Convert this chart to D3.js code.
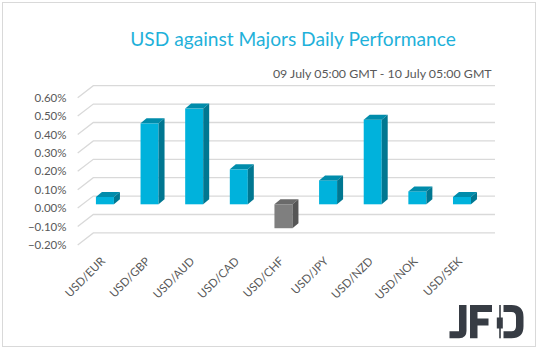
<!DOCTYPE html>
<html>
<head>
<meta charset="utf-8">
<script src="https://cdn.jsdelivr.net/npm/d3@7"></script>
<style>
  body { margin: 0; background: #fff; }
  text { font-family: Lato, "Open Sans", sans-serif; }
</style>
</head>
<body>
<div id="chart"></div>
<script>
const categories = ["USD/EUR", "USD/GBP", "USD/AUD", "USD/CAD", "USD/CHF", "USD/JPY", "USD/NZD", "USD/NOK", "USD/SEK"];
const changes = [0.04, 0.44, 0.52, 0.19, -0.13, 0.13, 0.46, 0.07, 0.04];
const yTicks = [-0.2, -0.1, 0, 0.1, 0.2, 0.3, 0.4, 0.5, 0.6];
const title = "USD against Majors Daily Performance";
const subtitle = "09 July 05:00 GMT - 10 July 05:00 GMT";

const width = 538, height = 351;

// back wall of the 3d plot
const wall = { left: 93.3, right: 495, top: 85.7, bottom: 232.9 };
const depth = { dx: -15.6, dy: 12 };     // back wall -> front edge
const barPos = { dx: -10.7, dy: 8.2 };   // back wall -> bar front face
const barDepth = { dx: 6, dy: -5 };
const barW = 18;

const svg = d3.select("#chart")
  .append("svg")
  .attr("width", width)
  .attr("height", height);

svg.append("rect")
  .attr("x", 2.5).attr("y", 2.5)
  .attr("width", 533).attr("height", 344)
  .attr("fill", "#fff")
  .attr("stroke", "#d9d9d9");

const x = d3.scaleBand()
  .domain(categories)
  .range([wall.left, wall.right]);

const y = d3.scaleLinear()
  .domain([d3.min(yTicks), d3.max(yTicks)])
  .range([wall.bottom, wall.top]);

// gridlines + the diagonal side edges
const grid = svg.append("g").attr("stroke", "#d9d9d9").attr("stroke-width", 1.3).attr("fill", "none");
yTicks.forEach(t => {
  grid.append("path")
    .attr("d", "M" + (wall.left + depth.dx) + "," + (y(t) + depth.dy) +
      "L" + wall.left + "," + y(t) + "L" + wall.right + "," + y(t));
});

svg.append("g")
  .selectAll("text")
  .data(yTicks)
  .enter()
    .append("text")
      .attr("x", 66.5)
      .attr("y", d => y(d) + depth.dy)
      .attr("dy", "0.35em")
      .attr("text-anchor", "end")
      .attr("font-size", 11.5)
      .attr("fill", "#595959")
      .text(d => d3.format(".2f")(d) + "%");

const colors = {
  up: { front: "#00b2dc", top: "#008cab", side: "#007791" },
  down: { front: "#7f7f7f", top: "#6a6a6a", side: "#565656" }
};

const bars = svg.append("g")
  .selectAll("g")
  .data(categories.map((c, i) => ({ cat: c, value: changes[i] })))
  .enter()
    .append("g");

bars.each(function(d) {
  const g = d3.select(this);
  const c = d.value >= 0 ? colors.up : colors.down;
  const L = x(d.cat) + x.bandwidth() / 2 + barPos.dx - barW / 2;
  const R = L + barW;
  const yTop = y(Math.max(d.value, 0)) + barPos.dy;
  const yBot = y(Math.min(d.value, 0)) + barPos.dy;
  const ddx = barDepth.dx, ddy = barDepth.dy;
  g.append("rect")
    .attr("x", L).attr("y", yTop)
    .attr("width", barW).attr("height", yBot - yTop)
    .attr("fill", c.front);
  g.append("path")
    .attr("d", "M" + L + "," + yTop + "L" + (L + ddx) + "," + (yTop + ddy) +
      "L" + (R + ddx) + "," + (yTop + ddy) + "L" + R + "," + yTop + "Z")
    .attr("fill", c.top);
  g.append("path")
    .attr("d", "M" + R + "," + yTop + "L" + (R + ddx) + "," + (yTop + ddy) +
      "L" + (R + ddx) + "," + (yBot + ddy) + "L" + R + "," + yBot + "Z")
    .attr("fill", c.side);
});

// category labels
svg.append("g")
  .selectAll("text")
  .data(categories)
  .enter()
    .append("text")
      .attr("transform", d => "translate(" + (x(d) + x.bandwidth() / 2 + barPos.dx + 1) + ",262) rotate(-45)")
      .attr("text-anchor", "end")
      .attr("font-size", 11.5)
      .attr("fill", "#595959")
      .text(d => d);

// title
const t = svg.append("text")
  .attr("x", 293).attr("y", 46)
  .attr("text-anchor", "middle")
  .attr("font-size", 18)
  .attr("fill", "#1fb1da")
  .text(title);
t.attr("font-size", 18 * 325.7 / t.node().getComputedTextLength());

const st = svg.append("text")
  .attr("x", 491.7).attr("y", 78.3)
  .attr("text-anchor", "end")
  .attr("font-size", 12)
  .attr("fill", "#595959")
  .text(subtitle);
st.attr("font-size", 12 * 219 / st.node().getComputedTextLength());

// JFD logo
const logo = svg.append("g").attr("fill", "#373c44");
logo.append("path")
  .attr("d", "M459,305h7.5v26q0,7.3-7.3,7.3h-9.7v-7h9.5z");
logo.append("path")
  .attr("d", "M470,305h22v7h-14.5v6.5h11v7h-11v12.8h-7.5z");
logo.append("rect").attr("x", 499.2).attr("y", 305).attr("width", 1.6).attr("height", 33.3);
logo.append("rect").attr("x", 496.8).attr("y", 317.5).attr("width", 6).attr("height", 11);
logo.append("path")
  .attr("d", "M503.5,305h8q12,0,12,12v9.3q0,12-12,12h-8v-7h8q4.5,0,4.5-5v-9.3q0-5-4.5-5h-8z");
</script>
</body>
</html>
